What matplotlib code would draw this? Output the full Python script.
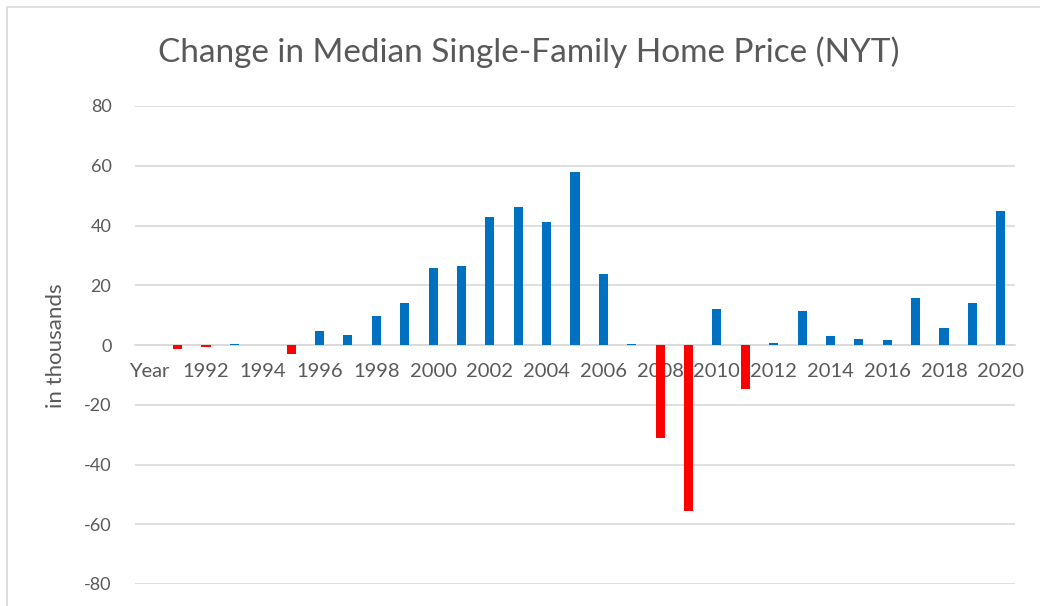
import numpy as np
import matplotlib.pyplot as plt
from matplotlib.patches import Rectangle

plt.rcParams['font.family'] = ['Lato', 'DejaVu Sans']
plt.rcParams['axes.unicode_minus'] = False

categories = ['Year'] + [str(y) for y in range(1991, 2021)]
changes = [np.nan, -1.5, -0.8, 0.3, 0.0, -3.1, 4.6, 3.2, 9.8, 14.2,
           25.7, 26.6, 42.8, 46.3, 41.2, 57.8, 23.6, 0.2, -31.0, -55.4,
           12.0, -14.6, 0.6, 11.4, 3.0, 2.0, 1.7, 15.7, 5.7, 13.9, 45.0]

blue = '#0070C0'
red = '#FF0000'
grey_txt = '#595959'
grid_col = '#D9D9D9'

fig = plt.figure(figsize=(10.4, 6.06), dpi=100)
# chart area border (cut off at right and bottom in the original)
fig.patches.append(Rectangle((7/1040, -0.1), 1.2, 1 - 7/606 + 0.1,
                             transform=fig.transFigure, fill=False,
                             edgecolor=grid_col, linewidth=1.2))

ax = fig.add_axes([135/1040, 1 - 584/606, 880/1040, 478/606])

x = np.arange(len(categories))
vals = np.array(changes, dtype=float)
colors = [red if v < 0 else blue for v in np.nan_to_num(vals)]
ax.bar(x, np.nan_to_num(vals), width=0.32, color=colors, zorder=3)

ax.set_xlim(-0.5, len(categories) - 0.5)
ax.set_ylim(-80, 80)
ax.set_yticks(np.arange(-80, 81, 20))
ax.set_xticks(x[::2])
ax.set_xticklabels(categories[::2])

ax.grid(axis='y', color=grid_col, linewidth=1.2, zorder=0)
for s in ['top', 'right', 'left']:
    ax.spines[s].set_visible(False)
ax.spines['bottom'].set_position(('data', 0))
ax.spines['bottom'].set_color(grid_col)
ax.spines['bottom'].set_linewidth(1.2)

ax.tick_params(axis='y', length=0, pad=17, labelsize=13, labelcolor=grey_txt)
ax.tick_params(axis='x', length=0, pad=13, labelsize=14.5, labelcolor=grey_txt)

fig.text(56/1040, 1 - 346/606, 'in thousands', rotation=90, ha='center',
         va='center', fontsize=16, color=grey_txt)
fig.text(529/1040, 1 - 52/606, 'Change in Median Single-Family Home Price (NYT)',
         ha='center', va='center', fontsize=24, color=grey_txt)

fig.savefig('out.png', dpi=100)
